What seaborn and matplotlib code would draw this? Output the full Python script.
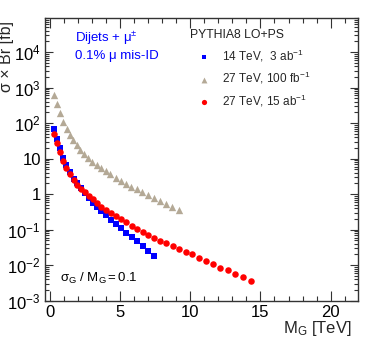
import matplotlib
matplotlib.use("Agg")
import matplotlib.pyplot as plt
import matplotlib.ticker as mticker
import pandas as pd
import seaborn as sns

sns.set_theme(style="ticks")
plt.rcParams["font.family"] = ["Liberation Sans", "DejaVu Sans"]
plt.rcParams["mathtext.fontset"] = "custom"
plt.rcParams["mathtext.rm"] = "Liberation Sans"
plt.rcParams["mathtext.it"] = "Liberation Sans:italic"

# Resonance mass [TeV] and sigma x Br [fb].
mass_14_3ab = [0.31, 0.5, 0.73, 0.93, 1.16, 1.43, 1.7, 1.95, 2.2, 2.48,
               2.75, 3.05, 3.35, 3.64, 4.0, 4.36, 4.69, 5.05, 5.41, 5.81,
               6.19, 6.62, 7.02, 7.41]
xsec_14_3ab = [70, 36.6, 19.4, 10.5, 6.7, 4.08, 2.73, 2.04, 1.45, 1.07,
               0.757, 0.576, 0.438, 0.339, 0.257, 0.191, 0.143, 0.109, 0.082,
               0.063, 0.047, 0.0336, 0.0248, 0.0179]

mass_27_100fb = [0.31, 0.5, 0.71, 0.91, 1.19, 1.41, 1.66, 1.91, 2.16, 2.45,
                 2.74, 3.02, 3.34, 3.64, 3.98, 4.31, 4.69, 5.05, 5.43, 5.79,
                 6.19, 6.57, 6.95, 7.38, 7.81, 8.29, 8.71, 9.16]
xsec_27_100fb = [617, 343, 187, 109, 66.8, 45.8, 33.1, 24.0, 17.4, 13.4,
                 10.5, 8.3, 6.56, 5.4, 4.44, 3.59, 2.77, 2.32, 1.91, 1.61,
                 1.36, 1.12, 0.92, 0.79, 0.64, 0.52, 0.44, 0.35]

mass_27_15ab = [0.31, 0.5, 0.73, 0.93, 1.16, 1.43, 1.7, 1.95, 2.2, 2.48,
                2.75, 3.05, 3.35, 3.64, 4.0, 4.36, 4.69, 5.05, 5.41, 5.81,
                6.19, 6.62, 7.02, 7.38, 7.81, 8.29, 8.74, 9.2, 9.67, 10.12,
                10.6, 11.1, 11.6, 12.14, 12.67, 13.21, 13.74, 14.29]
xsec_27_15ab = [51, 27.3, 15, 8.8, 5.6, 3.66, 2.48, 1.85, 1.43, 1.12,
                0.91, 0.71, 0.547, 0.44, 0.354, 0.286, 0.235, 0.198, 0.163,
                0.130, 0.105, 0.085, 0.070, 0.059, 0.048, 0.041, 0.0354,
                0.0286, 0.0232, 0.020, 0.0158, 0.0133, 0.0105, 0.0086,
                0.0072, 0.0055, 0.0045, 0.0036]

y_ticks = [1e-3, 1e-2, 1e-1, 1, 10, 1e2, 1e3, 1e4]
y_tick_labels = [r"$\mathregular{10^{-3}}$", r"$\mathregular{10^{-2}}$",
                 r"$\mathregular{10^{-1}}$", "1", "10",
                 r"$\mathregular{10^{2}}$", r"$\mathregular{10^{3}}$",
                 r"$\mathregular{10^{4}}$"]
x_ticks = [0, 5, 10, 15, 20]

# (label, mass, xsec, marker, colour, size)
SERIES = [
    ("14 TeV,  3 ab$^{-1}$", mass_14_3ab, xsec_14_3ab, "s", "#0000ff", 20),
    ("27 TeV, 100 fb$^{-1}$", mass_27_100fb, xsec_27_100fb, "^", "#b4a996", 28),
    ("27 TeV, 15 ab$^{-1}$", mass_27_15ab, xsec_27_15ab, "o", "#ff0000", 22),
]

fig = plt.figure(figsize=(3.73, 3.54), dpi=100)
ax = fig.add_axes([0.1206, 0.1506, 0.8384, 0.7994])

for label, mass, xsec, marker, colour, size in SERIES:
    df = pd.DataFrame({"mass": mass, "xsec": xsec})
    sns.scatterplot(data=df, x="mass", y="xsec", marker=marker, color=colour,
                    s=size, linewidth=0, label=label, ax=ax)

ax.set_yscale("log")
ax.set_xlim(-0.356, 21.93)
ax.set_ylim(1e-3, 9.3e4)

ax.yaxis.set_major_locator(mticker.FixedLocator(y_ticks))
ax.set_yticklabels(y_tick_labels)
ax.yaxis.set_minor_locator(mticker.LogLocator(base=10, subs=range(2, 10), numticks=20))
ax.yaxis.set_minor_formatter(mticker.NullFormatter())
ax.set_xticks(x_ticks)
ax.set_xticklabels([str(t) for t in x_ticks])
ax.xaxis.set_minor_locator(mticker.MultipleLocator(1))

ax.tick_params(which="both", direction="in", top=True, right=True,
               colors="#333333", labelcolor="black", labelsize=12, pad=3)
ax.tick_params(axis="x", which="major", length=7, width=0.8)
ax.tick_params(axis="x", which="minor", length=3.5, width=0.8)
ax.tick_params(axis="y", which="major", length=6, width=0.8)
ax.tick_params(axis="y", which="minor", length=3, width=0.8)
for spine in ax.spines.values():
    spine.set_color("#333333")
    spine.set_linewidth(1.0)

ax.set_xlabel(r"$\mathregular{M_G}$ [TeV]", fontsize=12, loc="right")
ax.set_ylabel("σ × Br [fb]", fontsize=11.5, loc="top")
ax.xaxis.set_label_coords(0.981, -0.065)
ax.yaxis.set_label_coords(-0.098, 0.99)

ax.text(0.096, 0.927, r"Dijets + $\mathregular{\mu^{\pm}}$", color="#0000ff",
        fontsize=9.5, transform=ax.transAxes, va="center", ha="left")
ax.text(0.096, 0.866, "0.1% μ mis-ID", color="#0000ff",
        fontsize=9.5, transform=ax.transAxes, va="center", ha="left")
ax.text(0.048, 0.079, r"$\mathregular{σ_G\ /\ M_G{=}0.1}$", color="black",
        fontsize=9.5, transform=ax.transAxes, va="center", ha="left")
ax.text(0.4637, 0.939, "PYTHIA8 LO+PS", color="#222222",
        fontsize=8.8, transform=ax.transAxes, va="center", ha="left")

ax.legend(loc="upper left", bbox_to_anchor=(0.489, 0.895), frameon=False,
          fontsize=8.5, borderpad=0, borderaxespad=0, handlelength=1.0,
          handletextpad=1.08, labelspacing=0.55, markerscale=0.8)

fig.savefig("out.png", dpi=100)
